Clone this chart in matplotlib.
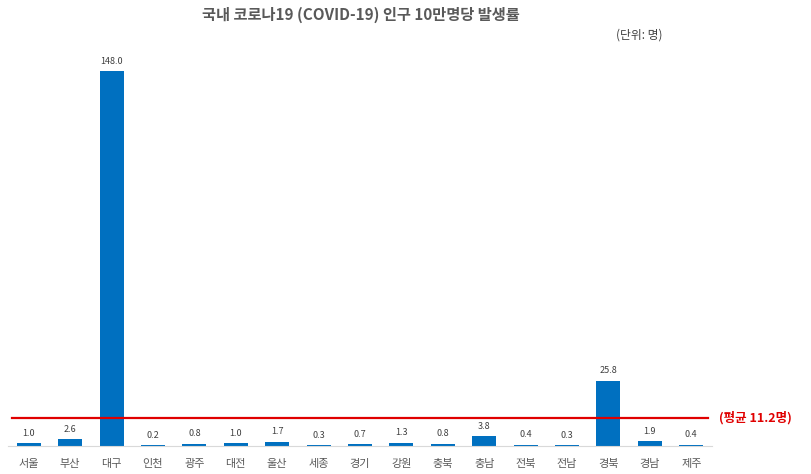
import matplotlib
matplotlib.use("Agg")
import matplotlib.pyplot as plt

plt.rcParams['font.family'] = ['Noto Sans CJK KR', 'DejaVu Sans']

regions = ['서울', '부산', '대구', '인천', '광주', '대전', '울산', '세종', '경기',
           '강원', '충북', '충남', '전북', '전남', '경북', '경남', '제주']
rates = [1.0, 2.6, 148.0, 0.2, 0.8, 1.0, 1.7, 0.3, 0.7,
         1.3, 0.8, 3.8, 0.4, 0.3, 25.8, 1.9, 0.4]
average = 11.2

W, H = 811, 474
fig = plt.figure(figsize=(W / 100, H / 100), dpi=100)
ax = fig.add_axes([8 / W, 28 / H, 704 / W, 405 / H])

x = range(len(regions))
bars = ax.bar(x, rates, width=0.58, color='#0070C0', zorder=2)
for xi, v in zip(x, rates):
    ax.annotate(f'{v:.1f}', (xi, v), xytext=(0, 4), textcoords='offset points',
                ha='center', va='bottom', fontsize=6.5, color='#404040')

ax.set_xlim(-0.5, len(regions) - 0.5)
ax.set_ylim(0, 160)
ax.set_xticks(list(x))
ax.set_xticklabels(regions, fontsize=8, color='#595959')
ax.tick_params(axis='x', length=0, pad=9)
ax.set_yticks([])
for s in ['top', 'right', 'left']:
    ax.spines[s].set_visible(False)
ax.spines['bottom'].set_color('#D9D9D9')

ax.axhline(average, xmin=0.005, xmax=0.995, color='#E00000', linewidth=1.6, zorder=3)
ax.annotate(f'(평균 {average}명)', (1.0, average), xycoords=('axes fraction', 'data'),
            xytext=(5, 0), textcoords='offset points', ha='left', va='center',
            fontsize=9, fontweight='bold', color='#E00000', annotation_clip=False)

fig.text(361 / W, 1 - 15 / H, '국내 코로나19 (COVID-19) 인구 10만명당 발생률',
         ha='center', va='center', fontsize=11, fontweight='bold', color='#595959')
fig.text(662 / W, 1 - 35 / H, '(단위: 명)', ha='right', va='center',
         fontsize=8.5, color='#404040')

fig.savefig('out.png', dpi=100)
